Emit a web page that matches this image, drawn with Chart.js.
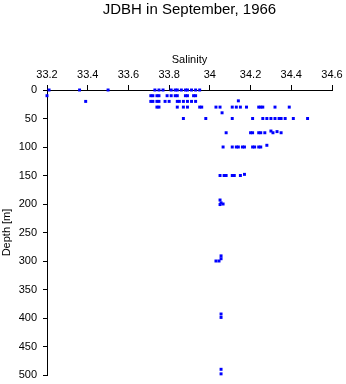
<!DOCTYPE html>
<html>
<head>
<meta charset="utf-8">
<script src="https://cdn.jsdelivr.net/npm/chart.js@4/dist/chart.umd.min.js"></script>
<style>
html,body{margin:0;padding:0;background:#fff;}
#wrap{width:346px;height:384px;position:relative;}
</style>
</head>
<body>
<div id="wrap"><canvas id="c" width="346" height="384"></canvas></div>
<script>
const chartTitle = "JDBH in September, 1966";
const xAxisTitle = "Salinity";
const yAxisTitle = "Depth [m]";
const xTicks = [33.2, 33.4, 33.6, 33.8, 34, 34.2, 34.4, 34.6];
const yTicks = [0, 50, 100, 150, 200, 250, 300, 350, 400, 450, 500];

// observations: salinity and depth (parallel arrays)
const salinity = [
  33.21,33.36,33.50,33.73,33.75,33.77,33.81,33.83,33.84,33.86,33.88,33.89,33.91,33.93,33.95,
  33.20,33.71,33.72,33.74,33.75,33.79,33.81,33.83,33.84,33.88,33.89,33.92,33.93,
  33.39,33.71,33.72,33.74,33.75,33.78,33.80,33.84,33.85,33.87,33.89,33.91,33.93,34.14,
  33.74,33.75,33.84,33.87,33.89,33.95,33.96,34.03,34.05,34.11,34.13,34.15,34.18,34.24,34.25,34.26,34.32,34.39,
  34.06,
  33.87,33.98,34.11,34.21,34.26,34.28,34.30,34.32,34.34,34.35,34.37,34.41,34.48,
  34.08,34.20,34.21,34.24,34.25,34.27,34.30,34.31,34.33,34.35,
  34.065,34.11,34.13,34.14,34.16,34.17,34.21,34.22,34.24,34.25,34.28,
  34.05,34.07,34.08,34.11,34.12,34.15,34.17,
  34.05,34.055,34.065,34.05,
  34.03,34.045,34.055,34.055,
  34.055,34.055,
  34.055,34.055
];
const depth = [
  0,0,0,0,0,0,0,0,0,0,0,0,0,0,0,
  10,10,10,10,10,10,10,10,10,10,10,10,10,
  20,20,20,20,20,20,20,20,20,20,20,20,20,19,
  30,30,30,30,30,30,30,30,30,30,30,30,30,30,30,30,30,30,
  40,
  50,50,50,50,50,50,50,50,50,50,50,50,50,
  75,75,75,75,75,75,72,75,73,75,
  100,100,100,100,100,100,100,100,100,100,97,
  150,150,150,150,150,150,148,
  193,198,200,201,
  300,300,296,291,
  393,399,
  490,498
];

const points = salinity.map((s, i) => ({x: s, y: depth[i]}));

const titlePlugin = {
  id: 'centerTitle',
  afterDraw(chart) {
    const ctx = chart.ctx;
    const a = chart.chartArea;
    ctx.save();
    ctx.font = '15px "Liberation Sans", Arial, sans-serif';
    ctx.fillStyle = '#000';
    ctx.textAlign = 'center';
    ctx.textBaseline = 'alphabetic';
    ctx.fillText(chartTitle, (a.left + a.right) / 2, 14);
    ctx.restore();
  }
};

const font = {family: '"Liberation Sans", Arial, sans-serif', size: 11};

new Chart(document.getElementById('c'), {
  type: 'scatter',
  data: {
    datasets: [{
      data: points,
      clip: false,
      pointStyle: 'rect',
      pointRadius: 2.1,
      pointBorderWidth: 0,
      backgroundColor: '#0000ff',
      borderColor: '#0000ff'
    }]
  },
  options: {
    responsive: false,
    animation: false,
    events: [],
    layout: {padding: {top: 0, left: 0, right: 14, bottom: 9}},
    plugins: {legend: {display: false}, tooltip: {enabled: false}, title: {display: false}},
    scales: {
      x: {
        type: 'linear',
        position: 'top',
        min: 33.2, max: 34.6,
        afterBuildTicks(scale) { scale.ticks = xTicks.map(v => ({value: v})); },
        afterFit(scale) { scale.height = 90; scale.paddingLeft = 0; scale.paddingRight = 0; },
        ticks: {
          font: font, color: '#000', padding: 3, maxRotation: 0, autoSkip: false,
          callback: v => String(+v.toFixed(1))
        },
        grid: {display: true, drawOnChartArea: false, drawTicks: true, tickLength: 5, color: '#000', lineWidth: 1},
        border: {display: true, color: '#000', width: 1},
        title: {display: true, text: xAxisTitle, font: font, color: '#000', padding: {top: 53, bottom: 0}}
      },
      y: {
        type: 'linear',
        reverse: true,
        min: 0, max: 500,
        afterBuildTicks(scale) { scale.ticks = yTicks.map(v => ({value: v})); },
        afterFit(scale) { scale.width = 47; scale.paddingTop = 0; scale.paddingBottom = 0; },
        ticks: {font: font, color: '#000', padding: 6, autoSkip: false},
        grid: {display: true, drawOnChartArea: false, drawTicks: true, tickLength: 4, color: '#000', lineWidth: 1},
        border: {display: true, color: '#000', width: 1},
        title: {display: true, text: yAxisTitle, font: font, color: '#000', padding: {top: 0, bottom: 0}}
      }
    }
  },
  plugins: [titlePlugin]
});
</script>
</body>
</html>
